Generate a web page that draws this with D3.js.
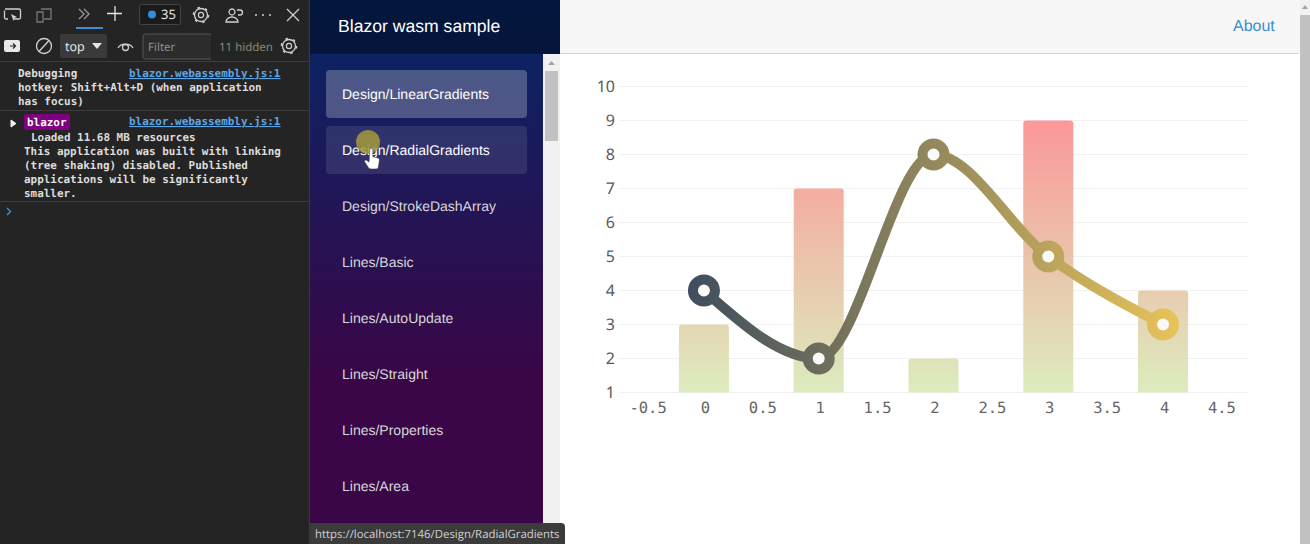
<!DOCTYPE html>
<html><head><meta charset="utf-8">
<script src="https://cdn.jsdelivr.net/npm/d3@7"></script>
<style>
html,body{margin:0;padding:0;width:1310px;height:544px;overflow:hidden;background:#fff}
svg{display:block}
text{text-rendering:geometricPrecision}
.con{font:600 10.95px "DejaVu Sans Mono",monospace;fill:#dcdcdc}
.lnk{font:600 10.95px "DejaVu Sans Mono",monospace;fill:#5aa6e6;text-decoration:underline}
.ico{fill:none;stroke:#d0d0d0;stroke-width:1.3}
</style></head><body>
<script>
// ---- chart data ----
const barCategories = [0, 1, 2, 3, 4];
const barValues = [3, 7, 2, 9, 4];
const lineCategories = [0, 1, 2, 3, 4];
const lineValues = [4, 2, 8, 5, 3];
const yTickValues = [1, 2, 3, 4, 5, 6, 7, 8, 9, 10];
const xTickValues = [-0.5, 0, 0.5, 1, 1.5, 2, 2.5, 3, 3.5, 4, 4.5];
const xDomain = [-0.74, 4.74];
const yDomain = [1, 10];
// ---- page text ----
const navLabels = ["Design/LinearGradients","Design/RadialGradients","Design/StrokeDashArray","Lines/Basic","Lines/AutoUpdate","Lines/Straight","Lines/Properties","Lines/Area"];
const consoleLines1 = ["Debugging","hotkey: Shift+Alt+D (when application","has focus)"];
const consoleLines2 = ["Loaded 11.68 MB resources"];
const consoleLines3 = ["This application was built with linking","(tree shaking) disabled. Published","applications will be significantly","smaller."];

const svg = d3.select("body").append("svg").attr("width",1310).attr("height",544);
const defs = svg.append("defs");

/* ---------- page background ---------- */
svg.append("rect").attr("width",1310).attr("height",544).attr("fill","#fff");

/* ---------- DevTools panel ---------- */
const dev = svg.append("g");
dev.append("rect").attr("width",310).attr("height",544).attr("fill","#242424");
dev.append("rect").attr("x",309).attr("width",1).attr("height",544).attr("fill","#3a3a3a");
[61,110,201].forEach(y=>dev.append("rect").attr("y",y).attr("width",309).attr("height",1).attr("fill","#3c3c3c"));
// toolbar icons
dev.append("path").attr("class","ico").attr("d","M5 9h14a1.5 1.5 0 0 1 1.5 1.5v7a1.5 1.5 0 0 1-1.5 1.5h-5M8 19H6a1.5 1.5 0 0 1-1.5-1.5v-7").attr("stroke-width",1.4);
dev.append("path").attr("fill","#d0d0d0").attr("d","M11 14l6 3-2.5 1-1 3z");
dev.append("path").attr("class","ico").style("stroke","#777").attr("d","M41 9h10v10h-7M37 12h6v10h-6z");
dev.append("path").attr("class","ico").style("stroke","#999").attr("d","M79 9l5 5-5 5M84 9l5 5-5 5");
dev.append("rect").attr("x",76).attr("y",27).attr("width",27).attr("height",2).attr("fill","#3a8fd6");
dev.append("path").attr("class","ico").style("stroke","#e6e6e6").attr("stroke-width",1.5).attr("d","M115 6v15M107 13.5h15");
dev.append("rect").attr("x",139.5).attr("y",4.5).attr("width",41).attr("height",20).attr("rx",2).attr("fill","#1b1b1b").attr("stroke","#444");
dev.append("circle").attr("cx",152).attr("cy",14.5).attr("r",4).attr("fill","#2f8fe0");
dev.append("text").attr("x",161).attr("y",19).text("35").attr("font-family","'Noto Sans'").attr("font-size",13).attr("fill","#e6e6e6");
const gear=(x,y)=>{const g=dev.append("g");
  g.append("circle").attr("cx",x).attr("cy",y).attr("r",6.5).attr("fill","none").attr("stroke","#d0d0d0").attr("stroke-width",1.3);
  g.append("circle").attr("cx",x).attr("cy",y).attr("r",2.6).attr("fill","none").attr("stroke","#d0d0d0").attr("stroke-width",1.2);
  g.append("circle").attr("cx",x).attr("cy",y).attr("r",7.5).attr("fill","none").attr("stroke","#d0d0d0").attr("stroke-width",1.6).attr("stroke-dasharray","2.6 5.25");};
gear(201,15); gear(289,46);
dev.append("path").attr("class","ico").attr("d","M226 22a6 5 0 0 1 12 0zM232 9a3 3 0 1 0 .01 0M237 10h3a2 2 0 0 1 0 5h-2");
[256,263,270].forEach(x=>dev.append("circle").attr("cx",x).attr("cy",15).attr("r",1).attr("fill","#d0d0d0"));
dev.append("path").attr("class","ico").attr("stroke-width",1.4).attr("d","M287 9l12 12M299 9l-12 12");
// second row
dev.append("rect").attr("x",4).attr("y",40).attr("width",16).attr("height",12).attr("rx",2).attr("fill","#e8e8e8");
dev.append("path").attr("d","M10 46h5M13 43.5l2.5 2.5-2.5 2.5").attr("fill","none").attr("stroke","#242424").attr("stroke-width",1.2);
dev.append("circle").attr("cx",44).attr("cy",46).attr("r",7.5).attr("class","ico");
dev.append("path").attr("class","ico").attr("d","M39 51.5l10-11");
dev.append("rect").attr("x",60).attr("y",34).attr("width",47).attr("height",24).attr("rx",2).attr("fill","#3a3a3a");
dev.append("text").attr("x",65).attr("y",51).text("top").attr("font-family","'Noto Sans'").attr("font-size",12.5).attr("fill","#e6e6e6");
dev.append("path").attr("d","M92 43h10l-5 6z").attr("fill","#e6e6e6");
dev.append("path").attr("class","ico").attr("d","M118 48a8 6 0 0 1 15 0");
dev.append("circle").attr("cx",125.5).attr("cy",47.5).attr("r",3).attr("class","ico");
dev.append("path").attr("d","M211 34h-66a2 2 0 0 0-2 2v21a2 2 0 0 0 2 2h66").attr("fill","#2c2c2c").attr("stroke","#555");
dev.append("text").attr("x",148).attr("y",51).text("Filter").attr("font-family","'Noto Sans'").attr("font-size",11.5).attr("fill","#8f8f8f");
dev.append("text").attr("x",219).attr("y",51).text("11 hidden").attr("font-family","'Noto Sans'").attr("font-size",11.5).attr("fill","#8a8a70");
// console text
consoleLines1.forEach((t,i)=>dev.append("text").attr("class","con").attr("x",18).attr("y",77+i*14).text(t));
dev.append("text").attr("class","lnk").attr("x",129).attr("y",77).text("blazor.webassembly.js:1");
dev.append("text").attr("class","lnk").attr("x",129).attr("y",125).text("blazor.webassembly.js:1");
dev.append("path").attr("d","M11 120l5 3.5-5 3.5z").attr("fill","#f0f0f0").attr("stroke","#f0f0f0");
dev.append("rect").attr("x",24).attr("y",114).attr("width",46).attr("height",16).attr("rx",2).attr("fill","#800080");
dev.append("text").attr("class","con").attr("x",27).attr("y",126).style("font-weight",700).style("fill","#fff").text("blazor");
consoleLines2.forEach((t,i)=>dev.append("text").attr("class","con").attr("x",31).attr("y",141).text(t));
consoleLines3.forEach((t,i)=>dev.append("text").attr("class","con").attr("x",24).attr("y",155+i*14).text(t));
dev.append("path").attr("d","M7 208l3.5 3.5-3.5 3.5").attr("fill","none").attr("stroke","#3a8fd6").attr("stroke-width",1.4);

/* ---------- Sidebar ---------- */
const sg = defs.append("linearGradient").attr("id","sideGrad").attr("gradientUnits","userSpaceOnUse").attr("x1",0).attr("x2",0).attr("y1",0).attr("y2",544);
sg.append("stop").attr("offset","0%").attr("stop-color","#052767");
sg.append("stop").attr("offset","70%").attr("stop-color","#3a0647");
svg.append("rect").attr("x",310).attr("width",250).attr("height",544).attr("fill","url(#sideGrad)");
svg.append("rect").attr("x",310).attr("width",250).attr("height",54).attr("fill","rgba(0,0,0,0.4)");
svg.append("text").attr("x",338).attr("y",32).text("Blazor wasm sample").attr("font-family","'Liberation Sans'").attr("font-size",17.6).attr("fill","#fff");
svg.append("rect").attr("x",543).attr("y",54).attr("width",17).attr("height",490).attr("fill","#f1f1f1");
svg.append("rect").attr("x",545).attr("y",71).attr("width",13).attr("height",70).attr("fill","#c1c1c1");
svg.append("path").attr("d","M548 65l3.5-4 3.5 4z").attr("fill","#a3a3a3");
const navStyles = [{o:0.25,c:"#fff"},{o:0.1,c:"#fff"}];
navLabels.forEach((t,i)=>{
  const y=70+i*56;
  if(navStyles[i]) svg.append("rect").attr("x",326).attr("y",y).attr("width",201).attr("height",48).attr("rx",4).attr("fill","#fff").attr("fill-opacity",navStyles[i].o);
  svg.append("text").attr("x",342).attr("y",y+29).text(t).attr("font-family","'Liberation Sans'").attr("font-size",14).attr("fill",navStyles[i]?navStyles[i].c:"#d7d7d7");
});

/* ---------- Top row ---------- */
svg.append("rect").attr("x",560).attr("width",740).attr("height",53).attr("fill","#f7f7f7");
svg.append("rect").attr("x",560).attr("y",53).attr("width",739).attr("height",1).attr("fill","#d6d5d5");
svg.append("text").attr("x",1233).attr("y",31).text("About").attr("font-family","'Liberation Sans'").attr("font-size",16).attr("fill","#3c8dd0");
svg.append("rect").attr("x",1300).attr("width",10).attr("height",544).attr("fill","#c1c1c1");
svg.append("rect").attr("x",1300).attr("width",10).attr("height",15).attr("fill","#f1f1f1");
svg.append("path").attr("d","M1302 9l3-4 3 4z").attr("fill","#a3a3a3");

/* ---------- Chart ---------- */
const x = d3.scaleLinear().domain(xDomain).range([619,1248]);
const y = d3.scaleLinear().domain(yDomain).range([392.5,86.5]);
const chart = svg.append("g");

const bg = defs.append("linearGradient").attr("id","barGrad").attr("gradientUnits","userSpaceOnUse")
  .attr("x1",0).attr("x2",0).attr("y1",y(d3.max(barValues))).attr("y2",y(yDomain[0]));
bg.append("stop").attr("offset","0%").attr("stop-color","#fb9898");
bg.append("stop").attr("offset","100%").attr("stop-color","#dcecbe");

const lg = defs.append("linearGradient").attr("id","lineGrad").attr("gradientUnits","userSpaceOnUse")
  .attr("x1",x(0)-16).attr("x2",x(4)+16).attr("y1",0).attr("y2",0);
lg.append("stop").attr("offset","0%").attr("stop-color","#3f4d5e");
lg.append("stop").attr("offset","100%").attr("stop-color","#e8c35a");

const yAxis = d3.axisLeft(y).tickValues(yTickValues).tickSize(0).tickPadding(4).tickFormat(d3.format("d"));
const yG = chart.append("g").attr("transform","translate(619,0)").call(yAxis);
yG.select(".domain").remove();
yG.selectAll("text").attr("font-family","'Noto Sans'").attr("font-size",16).attr("fill","#5a5a5a");
chart.append("g").selectAll("line").data(yTickValues).join("line")
  .attr("x1",x.range()[0]).attr("x2",x.range()[1]).attr("y1",d=>Math.floor(y(d))+0.5).attr("y2",d=>Math.floor(y(d))+0.5)
  .attr("stroke","#f1f1f1");

const xAxis = d3.axisBottom(x).tickValues(xTickValues).tickSize(0).tickPadding(9).tickFormat(d=>String(d));
const xG = chart.append("g").attr("transform","translate(0,392.5)").call(xAxis);
xG.select(".domain").remove();
xG.selectAll("text").attr("font-family","'DejaVu Sans Mono'").attr("font-size",15.5).attr("fill","#666").attr("dx",1);

const barW = 50, r = 3;
chart.append("g").selectAll("path").data(barCategories).join("path")
  .attr("fill","url(#barGrad)")
  .attr("d",(c,i)=>{
    const x0=x(c)-barW/2,x1=x(c)+barW/2,yt=y(barValues[i]),yb=y(yDomain[0]);
    return `M${x0},${yb}V${yt+r}Q${x0},${yt} ${x0+r},${yt}H${x1-r}Q${x1},${yt} ${x1},${yt+r}V${yb}Z`;
  });

const line = d3.line().x(d=>x(d[0])).y(d=>y(d[1])).curve(d3.curveMonotoneX);
const pts = d3.zip(lineCategories,lineValues);
chart.append("path").attr("d",line(pts)).attr("fill","none").attr("stroke","url(#lineGrad)").attr("stroke-width",10);
chart.append("g").selectAll("circle").data(pts).join("circle")
  .attr("cx",d=>x(d[0])).attr("cy",d=>y(d[1])).attr("r",11)
  .attr("fill","#fafafa").attr("stroke","url(#lineGrad)").attr("stroke-width",10);

/* ---------- Status bubble ---------- */
svg.append("path").attr("d","M310 544V523H561a4 4 0 0 1 4 4V544Z").attr("fill","#3b3b3b");
svg.append("text").attr("x",315).attr("y",538).text("https://localhost:7146/Design/RadialGradients").attr("font-family","'Open Sans'").attr("font-size",11.4).attr("fill","#d0d0d0");

/* ---------- Pointer ---------- */
svg.append("circle").attr("cx",368).attr("cy",142).attr("r",12).attr("fill","#a59a3c").attr("fill-opacity",0.85);
svg.append("path").attr("transform","translate(-72.5,-25.5) scale(1.2)")
  .attr("d","M368.5 146a1.3 1.3 0 0 1 2.6 0v6l3.8.8c1.4.4 1.8 1 1.6 2.4l-.8 5.2c-.2 1-.8 1.6-2 1.6h-4.2c-1 0-1.6-.4-2.1-1.2l-3-4.6c-.6-1 .4-2 1.4-1.4l2.2 1.5z")
  .attr("fill","#fff").attr("stroke","#333").attr("stroke-width",0.4);
</script>
</body></html>
